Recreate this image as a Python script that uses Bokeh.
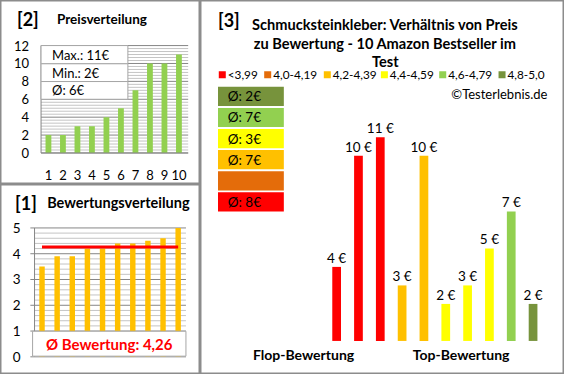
from bokeh.plotting import figure
from bokeh.models import Range1d
from bokeh.layouts import row, column
from bokeh.core.properties import value
from bokeh.embed import file_html
from bokeh.resources import INLINE

# ---------------- data ----------------
ranks = list(range(1, 11))
price_dist = [2, 2, 3, 3, 4, 5, 7, 10, 10, 11]
price_ticks = [0, 2, 4, 6, 8, 10, 12]
rating_dist = [3.5, 3.9, 3.9, 4.2, 4.2, 4.4, 4.4, 4.5, 4.6, 5.0]
rating_ticks = [0, 1, 2, 3, 4, 5]
product_ratings = [3.5, 3.9, 3.9, 4.2, 4.2, 4.4, 4.4, 4.5, 4.6, 5.0]
product_prices = [4, 10, 11, 3, 10, 2, 3, 5, 7, 2]
band_labels = ["<3,99", "4,0-4,19", "4,2-4,39", "4,4-4,59", "4,6-4,79", "4,8-5,0"]
band_lower = [0.0, 4.0, 4.2, 4.4, 4.6, 4.8]
band_colors = ["#FF0000", "#E46C0A", "#FFC000", "#FFFF00", "#92D050", "#77933C"]
title_lines = ["Schmucksteinkleber: Verhältnis von Preis",
               "zu Bewertung - 10 Amazon Bestseller im",
               "Test"]

# ---------------- style / layout helpers ----------------
FONT = "Lato"
SX = 564 / 580
SY = 374 / 390
BORDER = "#8c8c8c"
MAJOR = "#868686"
MINOR = "#c4c4c4"


def panel(w_ref, h_ref, xmap, ymap):
    W = round(w_ref * SX)
    H = round(h_ref * SY)
    (xa, XA), (xb, XB) = xmap
    (yc, YC), (yd, YD) = ymap
    XA, XB = XA * SX, XB * SX
    YC, YD = YC * SY, YD * SY
    ux = (xb - xa) / (XB - XA)
    uy = (yd - yc) / (YC - YD)
    x0 = xa - XA * ux
    y1 = yd + YD * uy
    p = figure(width=W, height=H,
               x_range=Range1d(x0, xb + (W - XB) * ux),
               y_range=Range1d(yc - (H - YC) * uy, y1),
               output_backend="svg", toolbar_location=None, tools="",
               min_border=0, x_axis_location=None, y_axis_location=None)
    p.grid.visible = False
    p.outline_line_color = BORDER
    p.outline_line_width = 2
    p.background_fill_color = "white"
    p.border_fill_color = "white"

    def fx(px):
        return x0 + px * SX * ux

    def fy(py):
        return y1 - py * SY * uy

    return p, fx, fy


def text(p, x, y, t, size, color="#000000", bold=False, align="left",
         baseline="middle", xo=0, yo=0):
    p.text(x=x, y=y, text=t, text_font=value(FONT),
           text_font_size=f"{size}px", text_color=color,
           text_font_style="bold" if bold else "normal",
           text_align=align, text_baseline=baseline,
           x_offset=xo, y_offset=yo)


def round_half_up(v):
    return int(v + 0.5)


# ---------------- [2] Preisverteilung ----------------
pA, ax, ay = panel(206, 192, ((1, 49.3), (10, 183.5)), ((0, 159), (12, 47)))
a_l, a_r = ax(41.7), ax(193)
minorA = [k / 3 for k in range(0, 37) if k % 6 != 0]
pA.segment(x0=a_l, x1=a_r, y0=minorA, y1=minorA, line_color=MINOR, line_width=1)
pA.segment(x0=a_l, x1=a_r, y0=price_ticks, y1=price_ticks, line_color=MAJOR, line_width=1)
pA.segment(x0=[a_l], x1=[a_l], y0=[0], y1=[max(price_ticks)], line_color=MAJOR, line_width=1)
pA.vbar(x=ranks, top=price_dist, width=0.4, fill_color="#92D050", line_color=None)
pA.segment(x0=[a_l], x1=[a_r], y0=[0], y1=[0], line_color=MAJOR, line_width=1)

row_px = [47, 66, 84.5, 103]
pA.quad(left=a_l, right=ax(131), top=[ay(v) for v in row_px[:-1]],
        bottom=[ay(v) for v in row_px[1:]], fill_color="white", line_color="#a6a6a6")
stats = [f"Max.: {max(price_dist)}€", f"Min.: {min(price_dist)}€",
         f"Ø: {round_half_up(sum(price_dist) / len(price_dist))}€"]
text(pA, [ax(53)] * 3, [ay((row_px[i] + row_px[i + 1]) / 2) for i in range(3)], stats, 13)

text(pA, [a_l] * len(price_ticks), price_ticks, [str(t) for t in price_ticks], 13,
     align="right", xo=-12)
text(pA, ranks, [0] * len(ranks), [str(r) for r in ranks], 13, align="center", yo=22)
text(pA, [ax(17)], [ay(19.7)], ["[2]"], 18, bold=True)
text(pA, [ax(58)], [ay(19.5)], ["Preisverteilung"], 13.5, bold=True)

# ---------------- [1] Bewertungsverteilung ----------------
pB, bx, by = panel(206, 198, ((1, 42.7), (10, 182.7)), ((0, 179.7), (5, 45.3)))
b_l, b_r = bx(35), bx(190.7)
minorB = [k / 5 for k in range(0, 26) if k % 5 != 0]
pB.segment(x0=b_l, x1=b_r, y0=minorB, y1=minorB, line_color=MINOR, line_width=1)
pB.segment(x0=bx(30.7), x1=b_r, y0=rating_ticks, y1=rating_ticks, line_color=MAJOR, line_width=1)
pB.segment(x0=[b_l], x1=[b_l], y0=[0], y1=[max(rating_ticks)], line_color=MAJOR, line_width=1)
pB.vbar(x=ranks, top=rating_dist, width=0.36, fill_color="#FFC000", line_color=None)
mean_rating = sum(rating_dist) / len(rating_dist)
pB.line(x=ranks, y=[mean_rating] * len(ranks), line_color="#FF0000", line_width=3)
pB.quad(left=[bx(33)], right=[b_r], top=[by(153)], bottom=[by(179)],
        fill_color="white", line_color="#a6a6a6")
text(pB, [(bx(33) + b_r) / 2], [by(166)],
     [f"Ø Bewertung: {mean_rating:.2f}".replace(".", ",")], 15,
     color="#FF0000", bold=True, align="center")
text(pB, [b_l] * len(rating_ticks), rating_ticks, [str(t) for t in rating_ticks], 13.5,
     align="right", xo=-14)
text(pB, [bx(15)], [by(19.5)], ["[1]"], 18, bold=True)
text(pB, [bx(48)], [by(19)], ["Bewertungsverteilung"], 14.5, bold=True)

# ---------------- [3] Preis / Bewertung ----------------
pC, cx, cy = panel(374, 390, ((1, 140), (10, 342)), ((0, 355), (10, 162)))


def band_of(r):
    return max(i for i, lo in enumerate(band_lower) if r >= lo)


bar_bands = [band_of(r) for r in product_ratings]
pC.vbar(x=ranks, top=product_prices, width=0.4,
        fill_color=[band_colors[b] for b in bar_bands], line_color=None)
text(pC, ranks, product_prices, [f"{v} €" for v in product_prices], 13.5,
     align="center", yo=-9)

# band average boxes (top: best band)
box_top_px = [90 + 22 * i for i in range(len(band_labels))]
order = list(range(len(band_labels)))[::-1]
pC.quad(left=cx(18), right=cx(85.7), top=[cy(t) for t in box_top_px],
        bottom=[cy(t + 20) for t in box_top_px],
        fill_color=[band_colors[k] for k in order], line_color=None)
box_texts = []
for k in order:
    vals = [pr for pr, b in zip(product_prices, bar_bands) if b == k]
    box_texts.append(f"Ø: {round_half_up(sum(vals) / len(vals))}€" if vals else "")
text(pC, [cx(28)] * len(order), [cy(t + 10) for t in box_top_px], box_texts, 13.5)

# legend row
leg_left_px = [19, 65.7, 127, 185.7, 245.7, 306.7]
pC.rect(x=[cx(l + 3.4) for l in leg_left_px], y=[cy(77.3)] * len(leg_left_px),
        width=7, height=7, width_units="screen", height_units="screen",
        fill_color=band_colors, line_color=None)
text(pC, [cx(l + 9) for l in leg_left_px], [cy(77.3)] * len(leg_left_px),
     band_labels, 11.8)

text(pC, [cx(18)], [cy(20.5)], ["[3]"], 18, bold=True)
text(pC, [cx(190)] * 3, [cy(25), cy(44.5), cy(64)], title_lines, 14.6,
     bold=True, align="center")
text(pC, [cx(356.7)], [cy(97.3)], ["©Testerlebnis.de"], 13, align="right")
text(pC, [cx(106), cx(268)], [cy(369)] * 2, ["Flop-Bewertung", "Top-Bewertung"], 14,
     bold=True, align="center")

layout = row(column(pA, pB), pC)
open("out.html", "w").write(file_html(layout, INLINE))
